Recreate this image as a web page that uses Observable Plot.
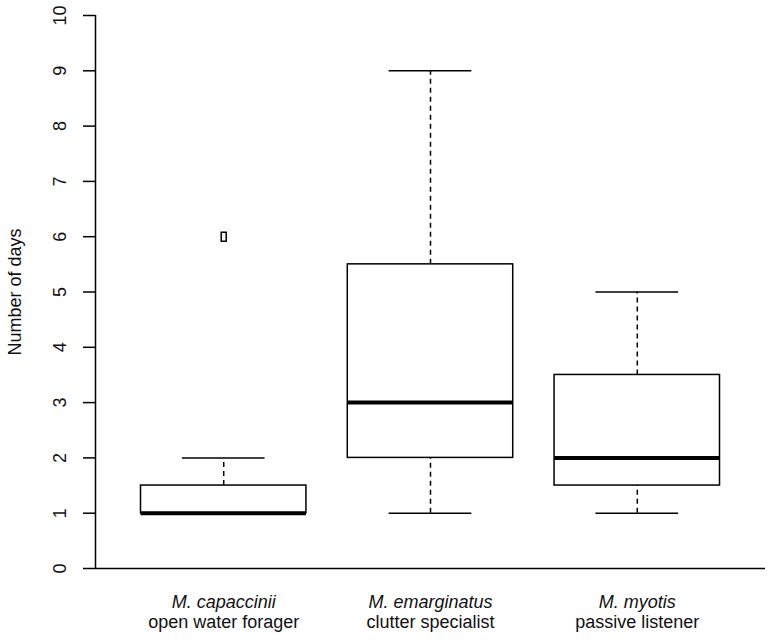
<!DOCTYPE html>
<html>
<head>
<meta charset="utf-8">
<script src="https://cdn.jsdelivr.net/npm/d3@7"></script>
<script src="https://cdn.jsdelivr.net/npm/@observablehq/plot@0.6"></script>
<style>
  html, body { margin: 0; padding: 0; background: #fff; }
  svg { display: block; }
</style>
</head>
<body>
<div id="chart"></div>
<script>
// Data
const species = ["M. capaccinii", "M. emarginatus", "M. myotis"];
const guilds = ["open water forager", "clutter specialist", "passive listener"];
const lowerWhisker = [1, 1, 1];
const q1 = [1, 2, 1.5];
const median = [1, 3, 2];
const q3 = [1.5, 5.5, 3.5];
const upperWhisker = [2, 9, 5];
const outlierGroup = [1];
const outlierValue = [6];
const yTicks = [0, 1, 2, 3, 4, 5, 6, 7, 8, 9, 10];

const boxes = species.map((s, k) => ({
  i: k + 1, species: s, guild: guilds[k],
  lo: lowerWhisker[k], q1: q1[k], med: median[k], q3: q3[k], hi: upperWhisker[k]
}));
const outliers = outlierGroup.map((g, k) => ({i: g, v: outlierValue[k]}));

const halfBox = 0.4, halfCap = 0.2;
const rectSymbol = { draw(ctx) { ctx.rect(-2.5, -4.5, 5, 9); } };
const FS = 18;

const chart = Plot.plot({
  width: 770,
  height: 642,
  marginLeft: 95,
  marginRight: 5,
  marginTop: 15,
  marginBottom: 74,
  style: { fontFamily: "'Liberation Sans', Arial, Helvetica, sans-serif", fontSize: FS + "px", background: "white" },
  x: { type: "linear", domain: [0.38, 3.62], axis: null },
  y: { domain: [0, 10], axis: null },
  marks: [
    // whiskers
    Plot.ruleX(boxes, {x: "i", y1: "q3", y2: "hi", stroke: "black", strokeWidth: 1.5, strokeDasharray: "5,4"}),
    Plot.ruleX(boxes, {x: "i", y1: "lo", y2: "q1", stroke: "black", strokeWidth: 1.5, strokeDasharray: "5,4"}),
    // caps
    Plot.ruleY(boxes, {y: "hi", x1: d => d.i - halfCap, x2: d => d.i + halfCap, stroke: "black", strokeWidth: 1.5}),
    Plot.ruleY(boxes, {y: "lo", x1: d => d.i - halfCap, x2: d => d.i + halfCap, stroke: "black", strokeWidth: 1.5}),
    // boxes
    Plot.rect(boxes, {x1: d => d.i - halfBox, x2: d => d.i + halfBox, y1: "q1", y2: "q3", fill: "white", stroke: "black", strokeWidth: 1.5}),
    // medians
    Plot.ruleY(boxes, {y: "med", x1: d => d.i - halfBox, x2: d => d.i + halfBox, stroke: "black", strokeWidth: 4}),
    // outliers
    Plot.dot(outliers, {x: "i", y: "v", symbol: rectSymbol, stroke: "black", strokeWidth: 1.5, fill: "none"}),
    // axes lines (L-shaped frame)
    Plot.ruleX([0.38], {y1: 0, y2: 10, stroke: "black", strokeWidth: 1.5}),
    Plot.ruleY([0], {x1: 0.38, x2: 3.62, stroke: "black", strokeWidth: 1.5}),
    // y ticks
    Plot.axisY({ticks: yTicks, tickSize: 12, tickFormat: () => "", label: null, strokeWidth: 1.5, stroke: "black"}),
    Plot.text(yTicks, {y: d => d, text: d => String(d), frameAnchor: "left", dx: -35, rotate: -90, textAnchor: "middle", fill: "#111", fontSize: FS}),
    // y label
    Plot.text(["Number of days"], {frameAnchor: "left", dx: -80, rotate: -90, textAnchor: "middle", fill: "#111", fontSize: FS}),
    // x category labels
    Plot.text(boxes, {x: "i", y: 0, text: "species", dy: 34, fontStyle: "italic", fill: "#111", fontSize: FS}),
    Plot.text(boxes, {x: "i", y: 0, text: "guild", dy: 54, fill: "#111", fontSize: FS})
  ]
});
document.getElementById("chart").appendChild(chart);
</script>
</body>
</html>
